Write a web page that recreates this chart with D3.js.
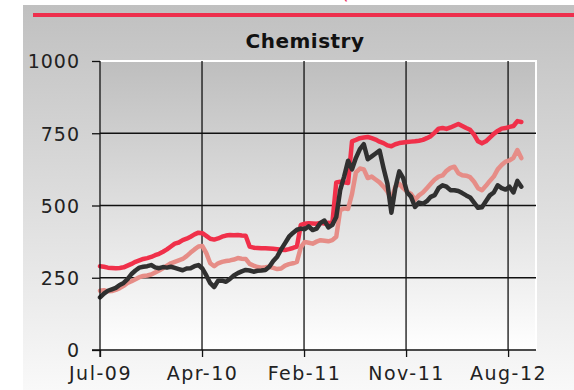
<!DOCTYPE html>
<html>
<head>
<meta charset="utf-8">
<script src="https://cdn.jsdelivr.net/npm/d3@7/dist/d3.min.js"></script>
<style>
  html, body { margin: 0; padding: 0; background: #ffffff; }
  svg { display: block; }
  text { font-family: "DejaVu Sans", Verdana, sans-serif; }
</style>
</head>
<body>
<svg id="chart" width="574" height="390"></svg>
<script>
// ---- data ----
const chartTitle = "Chemistry";
const tickDates = ["2009-07-15", "2010-04-26", "2011-02-05", "2011-11-17", "2012-08-28"];
const tickLabels = ["Jul-09", "Apr-10", "Feb-11", "Nov-11", "Aug-12"];
const yTicks = [0, 250, 500, 750, 1000];
const seriesStart = "2009-07-15";
const stepDays = 11;

const redValues = [
  290, 288, 285, 284, 283, 284, 286, 292, 298, 305,
  310, 315, 318, 322, 328, 333, 340, 348, 358, 368,
  372, 380, 385, 392, 400, 406, 404, 395, 385, 382,
  386, 392, 396, 398, 397, 398, 396, 395, 358, 354,
  353, 352, 352, 351, 350, 349, 347, 346, 349, 353,
  358, 433, 437, 439, 438, 437, 440, 438, 440, 439,
  580, 582, 580, 578, 722, 727, 733, 735, 737, 733,
  728, 721, 716, 708, 705, 712, 716, 718, 720, 721,
  722, 724, 727, 733, 740, 752, 766, 768, 765, 770,
  776, 782, 775, 768, 762, 745, 722, 715, 722, 735,
  748, 758, 766, 768, 772, 775, 792, 789
];

const salmonValues = [
  205, 207, 203, 204, 208, 214, 222, 232, 238, 245,
  252, 256, 258, 261, 268, 275, 283, 292, 300, 305,
  310, 315, 325, 337, 348, 358, 360, 335, 300, 290,
  300, 305, 308, 310, 313, 318, 316, 315, 298, 292,
  287, 285, 286, 288, 284, 280, 282, 292, 297, 300,
  305, 355, 374, 371, 368, 375, 380, 378, 376, 380,
  392, 484, 490, 488, 540, 615, 628, 625, 595, 600,
  590, 580, 565, 548, 520, 565, 575, 560, 548, 540,
  520, 535, 545, 560, 575, 590, 600, 604, 620, 630,
  634, 612, 605, 603, 598, 582, 560, 553, 568, 585,
  600, 625, 640, 652, 656, 665, 692, 664
];

const blackValues = [
  182, 195, 205, 210, 215, 225, 232, 245, 263, 275,
  285, 288, 290, 294, 286, 283, 287, 285, 288, 284,
  280, 276, 282, 283, 290, 294, 282, 258, 231, 218,
  240, 240, 236, 246, 258, 266, 272, 277, 275, 271,
  274, 275, 277, 288, 308, 323, 348, 370, 392, 405,
  416, 420, 418, 428, 415, 420, 440, 448, 424, 433,
  460, 553, 600, 655, 625, 665, 695, 712, 660, 670,
  680, 690, 630, 575, 475, 560, 618, 595, 545, 530,
  495, 510, 506, 515, 530, 536, 560, 570, 565, 553,
  553, 550, 543, 535, 528, 510, 492, 494, 515, 535,
  545, 570, 560, 555, 565, 545, 585, 565
];

// ---- layout ----
const W = 574, H = 390;
const plot = { left: 100, right: 536, top: 61, bottom: 350 };

const svg = d3.select("#chart");
const defs = svg.append("defs");

const panelGrad = defs.append("linearGradient")
  .attr("id", "panelGrad").attr("x1", 0).attr("y1", 0).attr("x2", 0).attr("y2", 1);
panelGrad.append("stop").attr("offset", "0%").attr("stop-color", "#c0c0c0");
panelGrad.append("stop").attr("offset", "100%").attr("stop-color", "#f9f9f9");

const plotGrad = defs.append("linearGradient")
  .attr("id", "plotGrad").attr("x1", 0).attr("y1", 0).attr("x2", 0).attr("y2", 1);
plotGrad.append("stop").attr("offset", "0%").attr("stop-color", "#bebebe");
plotGrad.append("stop").attr("offset", "100%").attr("stop-color", "#ffffff");

svg.append("rect").attr("width", W).attr("height", H).attr("fill", "#ffffff");

// partially visible heading glyph above the panel
svg.append("text").attr("x", 341).attr("y", -1)
  .attr("font-size", 20).attr("fill", "#e8305e").text("(");

// grey panel
svg.append("rect").attr("x", 23).attr("y", 5).attr("width", W - 23).attr("height", H - 5)
  .attr("fill", "url(#panelGrad)");

// red rule under the heading
svg.append("line").attr("x1", 33).attr("x2", W).attr("y1", 15).attr("y2", 15)
  .attr("stroke", "#ee2f4d").attr("stroke-width", 4);

// title
svg.append("text").attr("x", 305).attr("y", 48).attr("text-anchor", "middle")
  .attr("font-size", 20).attr("font-weight", "bold").attr("fill", "#111")
  .attr("letter-spacing", "0.5px")
  .text(chartTitle);

// scales
const parse = d3.utcParse("%Y-%m-%d");
const t0 = parse(tickDates[0]);
const tEnd = d3.utcDay.offset(t0, 1218);
const x = d3.scaleUtc().domain([t0, tEnd]).range([plot.left, plot.right]);
const y = d3.scaleLinear().domain([0, 1000]).range([plot.bottom, plot.top]);

const start = parse(seriesStart);
const dates = d3.range(redValues.length).map(i => d3.utcDay.offset(start, i * stepDays));
const ticks = tickDates.map(parse);

// plot background
svg.append("rect").attr("x", plot.left).attr("y", plot.top)
  .attr("width", plot.right - plot.left).attr("height", plot.bottom - plot.top)
  .attr("fill", "url(#plotGrad)");

// white border on top and right
svg.append("path")
  .attr("d", `M${plot.left},${plot.top}H${plot.right}V${plot.bottom}`)
  .attr("fill", "none").attr("stroke", "#ffffff").attr("stroke-width", 2);

// gridlines
const grid = svg.append("g").attr("stroke", "#111").attr("stroke-width", 1.3);
grid.selectAll("line.h").data(yTicks.filter(v => v > 0 && v < 1000)).join("line")
  .attr("x1", plot.left).attr("x2", plot.right)
  .attr("y1", d => y(d)).attr("y2", d => y(d));
grid.selectAll("line.v").data(ticks.slice(1)).join("line")
  .attr("x1", d => x(d)).attr("x2", d => x(d))
  .attr("y1", plot.top).attr("y2", plot.bottom);

// series
const line = d3.line().x((d, i) => x(dates[i])).y(d => y(d)).curve(d3.curveLinear);
const series = [
  { values: redValues, color: "#f0304a" },
  { values: salmonValues, color: "#e68d87" },
  { values: blackValues, color: "#303030" }
];
svg.append("g").selectAll("path").data(series).join("path")
  .attr("d", d => line(d.values))
  .attr("fill", "none")
  .attr("stroke", d => d.color)
  .attr("stroke-width", 4.5)
  .attr("stroke-linejoin", "round")
  .attr("stroke-linecap", "round");

// axes
const yAxis = d3.axisLeft(y).tickValues(yTicks).tickSize(8).tickPadding(12)
  .tickFormat(d => String(d));
const gy = svg.append("g").attr("transform", `translate(${plot.left},0)`).call(yAxis);
gy.select(".domain").attr("stroke", "#111").attr("stroke-width", 1.3)
  .attr("d", `M0,${plot.top}V${plot.bottom + 7}`);
gy.selectAll(".tick line").attr("stroke", "#111").attr("stroke-width", 1.3);
gy.selectAll(".tick text").attr("font-size", 19).attr("fill", "#222")
  .attr("font-family", "DejaVu Sans, Verdana, sans-serif")
  .attr("letter-spacing", "1px").attr("dy", "0.36em");

const xAxis = d3.axisBottom(x).tickValues(ticks).tickSize(7).tickPadding(10)
  .tickFormat((d, i) => tickLabels[i]);
const gx = svg.append("g").attr("transform", `translate(0,${plot.bottom})`).call(xAxis);
gx.select(".domain").attr("stroke", "#111").attr("stroke-width", 1.3)
  .attr("d", `M${plot.left - 8},0H${plot.right}`);
gx.selectAll(".tick line").attr("stroke", "#111").attr("stroke-width", 1.3);
gx.selectAll(".tick text").attr("font-size", 19).attr("fill", "#222")
  .attr("font-family", "DejaVu Sans, Verdana, sans-serif")
  .attr("letter-spacing", "1.5px");
</script>
</body>
</html>
